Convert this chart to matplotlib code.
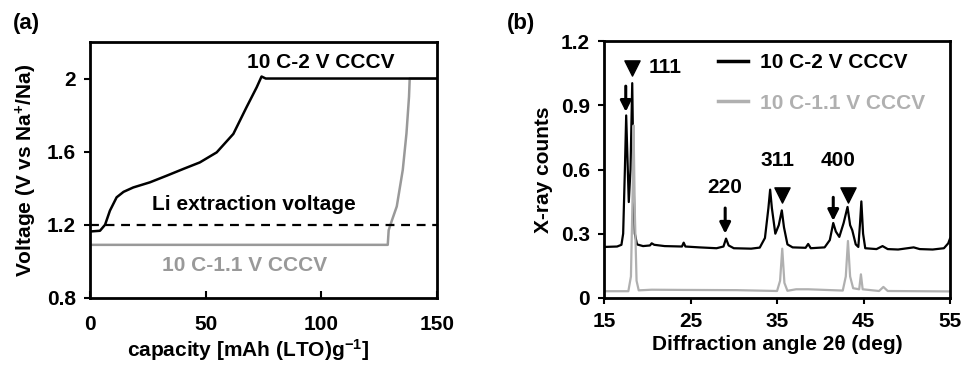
import matplotlib
matplotlib.use("Agg")
import matplotlib.pyplot as plt

plt.rcParams['font.family'] = ['Liberation Sans', 'DejaVu Sans']
plt.rcParams['font.weight'] = 'bold'
plt.rcParams['mathtext.fontset'] = 'custom'
plt.rcParams['mathtext.rm'] = 'Liberation Sans:bold'
plt.rcParams['mathtext.bf'] = 'Liberation Sans:bold'
plt.rcParams['mathtext.default'] = 'bf'

# (a) charge curves
cap_2v = [0, 4.3, 6.5, 8.6, 11.5, 14.5, 18.7, 25.9, 33.1, 40.3, 47.5, 54.8, 62.0, 67.7, 72.1, 74.2, 76, 150]
volt_2v = [1.163, 1.167, 1.2, 1.277, 1.35, 1.38, 1.404, 1.432, 1.468, 1.505, 1.541, 1.596, 1.697, 1.843,
           1.952, 2.011, 2.0, 2.0]
cap_11v = [0, 128.8, 129.2, 130.5, 132.7, 135.3, 136.9, 138, 138.3, 150]
volt_11v = [1.09, 1.09, 1.17, 1.22, 1.3, 1.5, 1.7, 1.9, 2.0, 2.0]
li_extraction = 1.2

# (b) XRD patterns
tt_2v = [15.0, 16.5, 17.0, 17.2, 17.4, 17.55, 17.7, 17.85, 18.05, 18.25, 18.4, 18.55, 18.8,
         19.5, 20.3, 20.5, 20.8, 22.0, 24.0, 24.2, 24.4, 26.0, 28.0, 28.8, 29.1, 29.4, 30.0,
         32.0, 33.0, 33.6, 34.0, 34.2, 34.4, 34.8, 35.2, 35.55, 35.8, 36.2, 36.8, 38.3, 38.6,
         38.9, 40.5, 41.1, 41.5, 41.8, 42.2, 42.7, 43.15, 43.45, 43.7, 44.1, 44.4, 44.6, 44.75,
         44.95, 45.2, 46.5, 47.2, 47.8, 49.0, 50.8, 51.5, 53.0, 54.3, 54.8, 55.0]
cnt_2v = [0.238, 0.240, 0.248, 0.30, 0.60, 0.853, 0.65, 0.448, 0.60, 1.004, 0.55, 0.30, 0.25,
          0.242, 0.245, 0.255, 0.248, 0.242, 0.240, 0.258, 0.240, 0.236, 0.232, 0.240, 0.277, 0.245, 0.232,
          0.230, 0.235, 0.280, 0.42, 0.506, 0.42, 0.300, 0.340, 0.409, 0.33, 0.250, 0.236, 0.234, 0.252,
          0.232, 0.236, 0.270, 0.350, 0.310, 0.285, 0.350, 0.425, 0.340, 0.316, 0.250, 0.238, 0.35, 0.451,
          0.30, 0.232, 0.228, 0.242, 0.228, 0.226, 0.236, 0.228, 0.226, 0.232, 0.255, 0.277]
tt_11v = [15.0, 17.8, 18.1, 18.3, 18.4, 18.55, 18.75, 19.0, 20.5, 24.2, 30.3, 35.0, 35.35, 35.6,
          35.85, 36.2, 37.2, 38.6, 42.6, 42.95, 43.2, 43.45, 43.8, 44.5, 44.7, 44.9, 46.8, 47.3,
          47.8, 55.0]
cnt_11v = [0.031, 0.031, 0.10, 0.50, 0.806, 0.40, 0.08, 0.035, 0.038, 0.037, 0.036, 0.032, 0.08, 0.230,
           0.07, 0.033, 0.040, 0.040, 0.034, 0.10, 0.266, 0.10, 0.045, 0.04, 0.11, 0.04, 0.032, 0.051,
           0.032, 0.030]

peak_labels = ['111', '220', '311', '400']
peak_label_x = [22.0, 28.9, 35.0, 42.1]
peak_label_y = [1.076, 0.515, 0.64, 0.64]
tri_x = [18.2, 35.6, 43.2]
tri_y = [1.076, 0.483, 0.483]
arrow_x = [17.5, 29.0, 41.5]
arrow_top = [0.99, 0.42, 0.47]
arrow_tip = [0.87, 0.30, 0.36]

fs = 15
gray_a = '#999999'
gray_b = '#b0b0b0'

fig = plt.figure(figsize=(9.62, 3.65), dpi=100)
ax1 = fig.add_axes([0.0936, 0.184, 0.3604, 0.701])
ax2 = fig.add_axes([0.628, 0.184, 0.3595, 0.703])

# ---- (a)
ax1.plot(cap_11v, volt_11v, color=gray_a, lw=1.8)
ax1.plot(cap_2v, volt_2v, color='black', lw=1.8)
ax1.axhline(li_extraction, color='black', lw=1.6, ls=(0, (4, 3)))
ax1.set_xlim(0, 150)
ax1.set_ylim(0.8, 2.2)
ax1.set_xticks([0, 50, 100, 150])
ax1.set_yticks([0.8, 1.2, 1.6, 2.0])
ax1.set_yticklabels(['0.8', '1.2', '1.6', '2'])
ax1.tick_params(axis='x', direction='in', length=5, width=1.5, labelsize=fs, pad=12)
ax1.tick_params(axis='y', direction='out', length=4, width=1.5, labelsize=fs, pad=6)
ax1.set_xlabel(r'capacity [mAh (LTO)g$^{-1}$]', fontsize=fs, fontweight='bold')
ax1.xaxis.set_label_coords(0.457, -0.155)
ax1.set_ylabel(r'Voltage (V vs Na$^{+}$/Na)', fontsize=fs, fontweight='bold', labelpad=6)
ax1.text(100, 2.09, '10 C-2 V CCCV', fontsize=fs, fontweight='bold', ha='center', va='center')
ax1.text(71, 1.31, 'Li extraction voltage', fontsize=fs, fontweight='bold', ha='center', va='center')
ax1.text(66.7, 0.975, '10 C-1.1 V CCCV', fontsize=fs, fontweight='bold', ha='center', va='center',
         color=gray_a)

# ---- (b)
ax2.plot(tt_2v, cnt_2v, color='black', lw=1.6, label='10 C-2 V CCCV')
ax2.plot(tt_11v, cnt_11v, color=gray_b, lw=1.6, label='10 C-1.1 V CCCV')
ax2.set_xlim(15, 55)
ax2.set_ylim(0, 1.2)
ax2.set_xticks([15, 25, 35, 45, 55])
ax2.set_yticks([0, 0.3, 0.6, 0.9, 1.2])
ax2.set_yticklabels(['0', '0.3', '0.6', '0.9', '1.2'])
ax2.tick_params(axis='x', direction='out', length=4, width=1.5, labelsize=fs, pad=6)
ax2.tick_params(axis='y', direction='out', length=4, width=1.5, labelsize=fs, pad=6)
ax2.set_xlabel('Diffraction angle 2θ (deg)', fontsize=fs, fontweight='bold', labelpad=3)
ax2.set_ylabel('X-ray counts', fontsize=fs, fontweight='bold', labelpad=6)

ax2.scatter(tri_x, tri_y, marker='v', s=120, color='black', zorder=5)
for x, top, tip in zip(arrow_x, arrow_top, arrow_tip):
    ax2.annotate('', xy=(x, tip), xytext=(x, top),
                 arrowprops=dict(arrowstyle='-|>', color='black', lw=2.2,
                                 mutation_scale=16, shrinkA=0, shrinkB=0))
for lab, x, y in zip(peak_labels, peak_label_x, peak_label_y):
    ax2.text(x, y, lab, fontsize=fs, fontweight='bold', ha='center', va='center')

leg = ax2.legend(loc='upper left', bbox_to_anchor=(0.329, 0.955), frameon=False,
                 fontsize=fs, handlelength=1.45, handletextpad=0.58, labelspacing=1.05,
                 borderpad=0, borderaxespad=0, labelcolor='linecolor')
for line in leg.get_lines():
    line.set_linewidth(2.5)

for ax in (ax1, ax2):
    for sp in ax.spines.values():
        sp.set_linewidth(2.0)

fig.text(0.013, 0.935, '(a)', fontsize=fs + 1, fontweight='bold', va='center')
fig.text(0.527, 0.935, '(b)', fontsize=fs + 1, fontweight='bold', va='center')

fig.savefig('out.png', dpi=100)
